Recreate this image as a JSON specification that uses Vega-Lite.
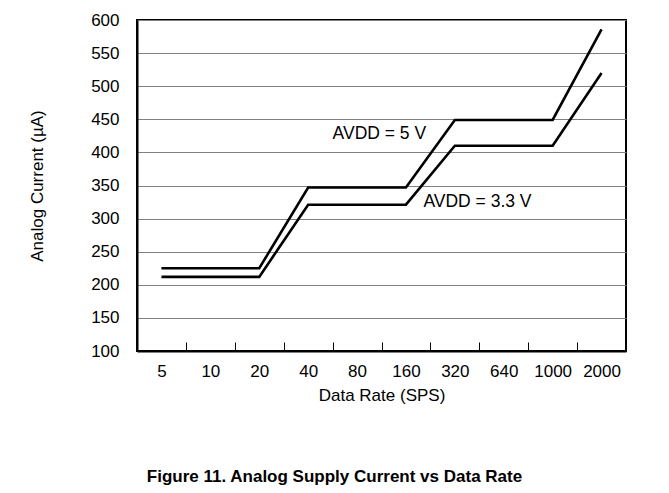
{
  "$schema": "https://vega.github.io/schema/vega-lite/v6.json",
  "width": 489,
  "height": 331,
  "autosize": {"type": "none"},
  "padding": {"left": 137, "top": 20, "right": 43, "bottom": 142},
  "background": "white",
  "config": {
    "font": "Liberation Sans",
    "view": {"stroke": "black", "strokeWidth": 2},
    "axis": {"labelFont": "Liberation Sans", "titleFont": "Liberation Sans", "labelColor": "black", "titleColor": "black", "labelFontSize": 17, "titleFontSize": 17, "titleFontWeight": "normal"}
  },
  "title": {
    "text": "Figure 11. Analog Supply Current vs Data Rate",
    "orient": "bottom",
    "anchor": "middle",
    "frame": "group",
    "dx": -47,
    "offset": 66,
    "font": "Liberation Sans",
    "fontSize": 17,
    "fontWeight": "bold",
    "color": "black"
  },
  "datasets": {
    "curves": [
      {"rate": "5", "supply": "AVDD = 5 V", "current": 225},
      {"rate": "10", "supply": "AVDD = 5 V", "current": 225},
      {"rate": "20", "supply": "AVDD = 5 V", "current": 225},
      {"rate": "40", "supply": "AVDD = 5 V", "current": 347},
      {"rate": "80", "supply": "AVDD = 5 V", "current": 347},
      {"rate": "160", "supply": "AVDD = 5 V", "current": 347},
      {"rate": "320", "supply": "AVDD = 5 V", "current": 449},
      {"rate": "640", "supply": "AVDD = 5 V", "current": 449},
      {"rate": "1000", "supply": "AVDD = 5 V", "current": 449},
      {"rate": "2000", "supply": "AVDD = 5 V", "current": 586},
      {"rate": "5", "supply": "AVDD = 3.3 V", "current": 212},
      {"rate": "10", "supply": "AVDD = 3.3 V", "current": 212},
      {"rate": "20", "supply": "AVDD = 3.3 V", "current": 212},
      {"rate": "40", "supply": "AVDD = 3.3 V", "current": 321},
      {"rate": "80", "supply": "AVDD = 3.3 V", "current": 321},
      {"rate": "160", "supply": "AVDD = 3.3 V", "current": 321},
      {"rate": "320", "supply": "AVDD = 3.3 V", "current": 410},
      {"rate": "640", "supply": "AVDD = 3.3 V", "current": 410},
      {"rate": "1000", "supply": "AVDD = 3.3 V", "current": 410},
      {"rate": "2000", "supply": "AVDD = 3.3 V", "current": 520}
    ],
    "labels": [
      {"rate": "80", "current": 428, "label": "AVDD = 5 V", "shift": 0},
      {"rate": "320", "current": 325, "label": "AVDD = 3.3 V", "shift": 1}
    ]
  },
  "encoding": {
    "x": {
      "field": "rate", "type": "ordinal", "sort": null,
      "scale": {"type": "band", "domain": ["5","10","20","40","80","160","320","640","1000","2000"], "paddingInner": 0, "paddingOuter": 0},
      "axis": {"title": "Data Rate (SPS)", "labelAngle": 0, "tickBand": "extent", "tickSize": -9, "tickColor": "black", "tickWidth": 1, "domainColor": "black", "domainWidth": 2, "labelPadding": 21, "titlePadding": 8, "grid": false}
    },
    "y": {
      "field": "current", "type": "quantitative",
      "scale": {"domain": [100, 600], "nice": false, "zero": false},
      "axis": {"title": "Analog Current (µA)", "values": [100,150,200,250,300,350,400,450,500,550,600], "labelOverlap": false, "ticks": false, "labelPadding": 18, "titlePadding": 44, "domainColor": "black", "domainWidth": 2, "grid": true, "gridColor": "#808080", "gridWidth": 1}
    }
  },
  "layer": [
    {
      "data": {"name": "curves"},
      "mark": {"type": "line", "color": "black", "strokeWidth": 2.6},
      "encoding": {
        "detail": {"field": "supply"}
      }
    },
    {
      "data": {"name": "labels"},
      "transform": [{"filter": "datum.shift == 0"}],
      "mark": {"type": "text", "align": "left", "baseline": "middle", "fontSize": 17.5, "font": "Liberation Sans", "color": "black", "dx": 0},
      "encoding": {
        "x": {"field": "rate", "type": "ordinal", "bandPosition": 0},
        "text": {"field": "label"}
      }
    },
    {
      "data": {"name": "labels"},
      "transform": [{"filter": "datum.shift == 1"}],
      "mark": {"type": "text", "align": "left", "baseline": "middle", "fontSize": 17.5, "font": "Liberation Sans", "color": "black", "dx": -7},
      "encoding": {
        "x": {"field": "rate", "type": "ordinal", "bandPosition": 0},
        "text": {"field": "label"}
      }
    }
  ]
}
